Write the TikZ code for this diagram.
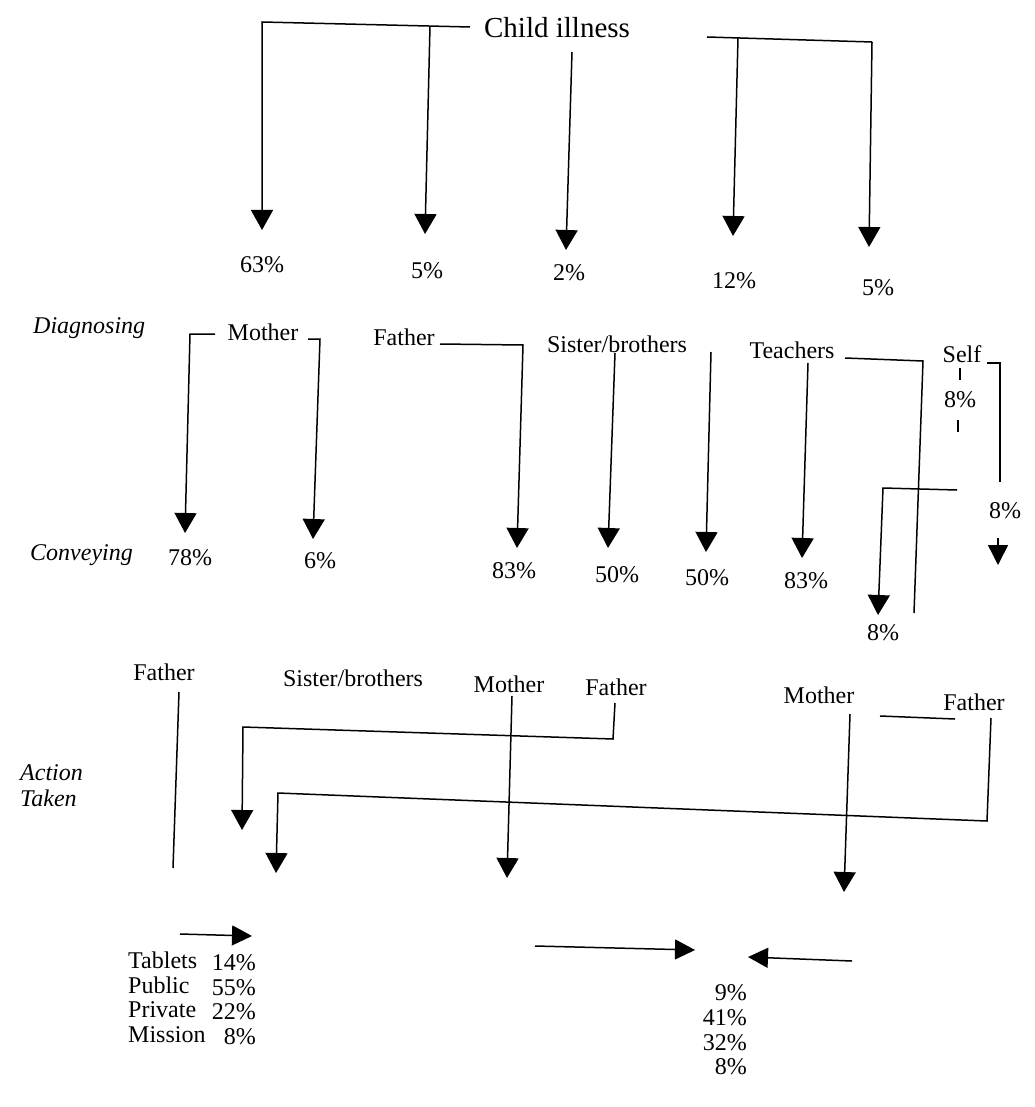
\documentclass[tikz,border=0pt]{standalone}
\usepackage{fontspec}
\setmainfont{Liberation Serif}
\usetikzlibrary{arrows.meta}
\begin{document}
\begin{tikzpicture}[x=1pt,y=-1pt,
  lbl/.style={font=\fontsize{24}{28}\selectfont, inner sep=0pt, anchor=base},
  ttl/.style={font=\fontsize{29}{33}\selectfont, inner sep=0pt, anchor=base},
  side/.style={font=\fontsize{24}{28}\selectfont\itshape, inner sep=0pt, anchor=base west},
  lft/.style={lbl, anchor=base west},
  rgt/.style={lbl, anchor=base east},
  ln/.style={line width=1.5pt},
  arr/.style={ln, -{Triangle[width=22pt,length=20pt]}},
  sarr/.style={ln, -{Triangle[width=20pt,length=20pt]}}]
\path[use as bounding box] (0,0) rectangle (1034,1107);

% ---------- top ----------
\node[ttl] (title) at (557,38) {Child illness};
\node[lbl] (p1) at (262,272) {63\%};
\node[lbl] (p2) at (427,278) {5\%};
\node[lbl] (p3) at (569,280) {2\%};
\node[lbl] (p4) at (734,288) {12\%};
\node[lbl] (p5) at (878,295) {5\%};

\coordinate (a0) at (470,27);
\coordinate (a1) at (262,22);
\coordinate (a1t) at (262,230);
\coordinate (a2) at (430,26);
\coordinate (a2t) at (425,234);
\coordinate (a3) at (572,52);
\coordinate (a3t) at (566,250);
\coordinate (b0) at (707,37);
\coordinate (b4) at (738,38);
\coordinate (b4t) at (733,236);
\coordinate (b5) at (872,42);
\coordinate (b5t) at (869,247);
\draw[arr] (a0) -- (a1) -- (a1t);
\draw[arr] (a2) -- (a2t);
\draw[arr] (a3) -- (a3t);
\draw[ln] (b0) -- (b5);
\draw[arr] (b5) -- (b5t);
\draw[arr] (b4) -- (b4t);

% ---------- diagnosing ----------
\node[side] (diag) at (33,333) {Diagnosing};
\node[lbl] (mo1) at (263,340) {Mother};
\node[lbl] (fa1) at (404,345) {Father};
\node[lbl] (si1) at (617,352) {Sister/brothers};
\node[lbl] (te1) at (792,358) {Teachers};
\node[lbl] (se1) at (962,362) {Self};
\node[lbl] (se8) at (960,407) {8\%};

\coordinate (m1a) at (215,334);
\coordinate (m1b) at (190,334);
\coordinate (m1t) at (185,533);
\coordinate (m2a) at (308,339);
\coordinate (m2b) at (320,339);
\coordinate (m2t) at (313,539);
\coordinate (f1a) at (440,344);
\coordinate (f1b) at (523,345);
\coordinate (f1t) at (517,548);
\coordinate (s1a) at (615,353);
\coordinate (s1t) at (608,548);
\coordinate (s2a) at (711,352);
\coordinate (s2t) at (706,552);
\coordinate (t1a) at (808,363);
\coordinate (t1t) at (802,558);
\coordinate (t2a) at (845,358);
\coordinate (t2b) at (923,361);
\coordinate (t2e) at (914,613);
\coordinate (k1a) at (960,368);
\coordinate (k1b) at (960,380);
\coordinate (k2a) at (958,420);
\coordinate (k2b) at (958,432);
\coordinate (h1a) at (987,363);
\coordinate (h1b) at (1000,363);
\coordinate (h1e) at (1000,482);
\coordinate (sa) at (998,538);
\coordinate (st) at (998,565);
\coordinate (g1a) at (957,490);
\coordinate (g1b) at (883,488);
\coordinate (g1t) at (878,615);

\draw[arr] (m1a) -- (m1b) -- (m1t);
\draw[arr] (m2a) -- (m2b) -- (m2t);
\draw[arr] (f1a) -- (f1b) -- (f1t);
\draw[arr] (s1a) -- (s1t);
\draw[arr] (s2a) -- (s2t);
\draw[arr] (t1a) -- (t1t);
\draw[ln] (t2a) -- (t2b) -- (t2e);
\draw[ln] (k1a) -- (k1b);
\draw[ln] (k2a) -- (k2b);
\draw[ln] (h1a) -- (h1b) -- (h1e);
\draw[sarr] (sa) -- (st);
\draw[arr] (g1a) -- (g1b) -- (g1t);

% ---------- conveying ----------
\node[side] (conv) at (30,560) {Conveying};
\node[lbl] (c1) at (190,565) {78\%};
\node[lbl] (c2) at (320,568) {6\%};
\node[lbl] (c3) at (514,578) {83\%};
\node[lbl] (c4) at (617,582) {50\%};
\node[lbl] (c5) at (707,585) {50\%};
\node[lbl] (c6) at (806,588) {83\%};
\node[lbl] (c7) at (1005,518) {8\%};
\node[lbl] (c8) at (883,640) {8\%};

% ---------- action taken ----------
\node[side] (act1) at (20,780) {Action};
\node[side] (act2) at (20,806) {Taken};
\node[lbl] (fa3) at (164,680) {Father};
\node[lbl] (si3) at (353,686) {Sister/brothers};
\node[lbl] (mo3) at (509,692) {Mother};
\node[lbl] (fa4) at (616,695) {Father};
\node[lbl] (mo4) at (819,703) {Mother};
\node[lbl] (fa5) at (974,710) {Father};

\coordinate (v1a) at (179,692);
\coordinate (v1b) at (173,868);
\coordinate (r1a) at (615,703);
\coordinate (r1b) at (613,739);
\coordinate (r1c) at (243,727);
\coordinate (r1t) at (242,830);
\coordinate (q1a) at (512,696);
\coordinate (q1t) at (507,878);
\coordinate (w1a) at (880,716);
\coordinate (w1b) at (955,719);
\coordinate (r2a) at (991,718);
\coordinate (r2b) at (987,821);
\coordinate (r2c) at (278,793);
\coordinate (r2t) at (276,873);
\coordinate (q2a) at (850,714);
\coordinate (q2t) at (844,892);

\draw[ln] (v1a) -- (v1b);
\draw[arr] (r1a) -- (r1b) -- (r1c) -- (r1t);
\draw[arr] (q1a) -- (q1t);
\draw[ln] (w1a) -- (w1b);
\draw[arr] (r2a) -- (r2b) -- (r2c) -- (r2t);
\draw[arr] (q2a) -- (q2t);

% ---------- bottom ----------
\coordinate (z1a) at (180,934);
\coordinate (z1t) at (252,936);
\coordinate (z2a) at (535,946);
\coordinate (z2t) at (695,950);
\coordinate (z3a) at (852,961);
\coordinate (z3t) at (748,957);
\draw[sarr] (z1a) -- (z1t);
\draw[sarr] (z2a) -- (z2t);
\draw[sarr] (z3a) -- (z3t);

\node[lft] (tab) at (128,968) {Tablets};
\node[lft] (pub) at (128,993) {Public};
\node[lft] (pri) at (128,1017) {Private};
\node[lft] (mis) at (128,1042) {Mission};
\node[rgt] (l1) at (256,970) {14\%};
\node[rgt] (l2) at (256,995) {55\%};
\node[rgt] (l3) at (256,1019) {22\%};
\node[rgt] (l4) at (256,1044) {8\%};
\node[rgt] (r1) at (747,1000) {9\%};
\node[rgt] (r2) at (747,1025) {41\%};
\node[rgt] (r3) at (747,1050) {32\%};
\node[rgt] (r4) at (747,1074) {8\%};
\end{tikzpicture}
\end{document}
